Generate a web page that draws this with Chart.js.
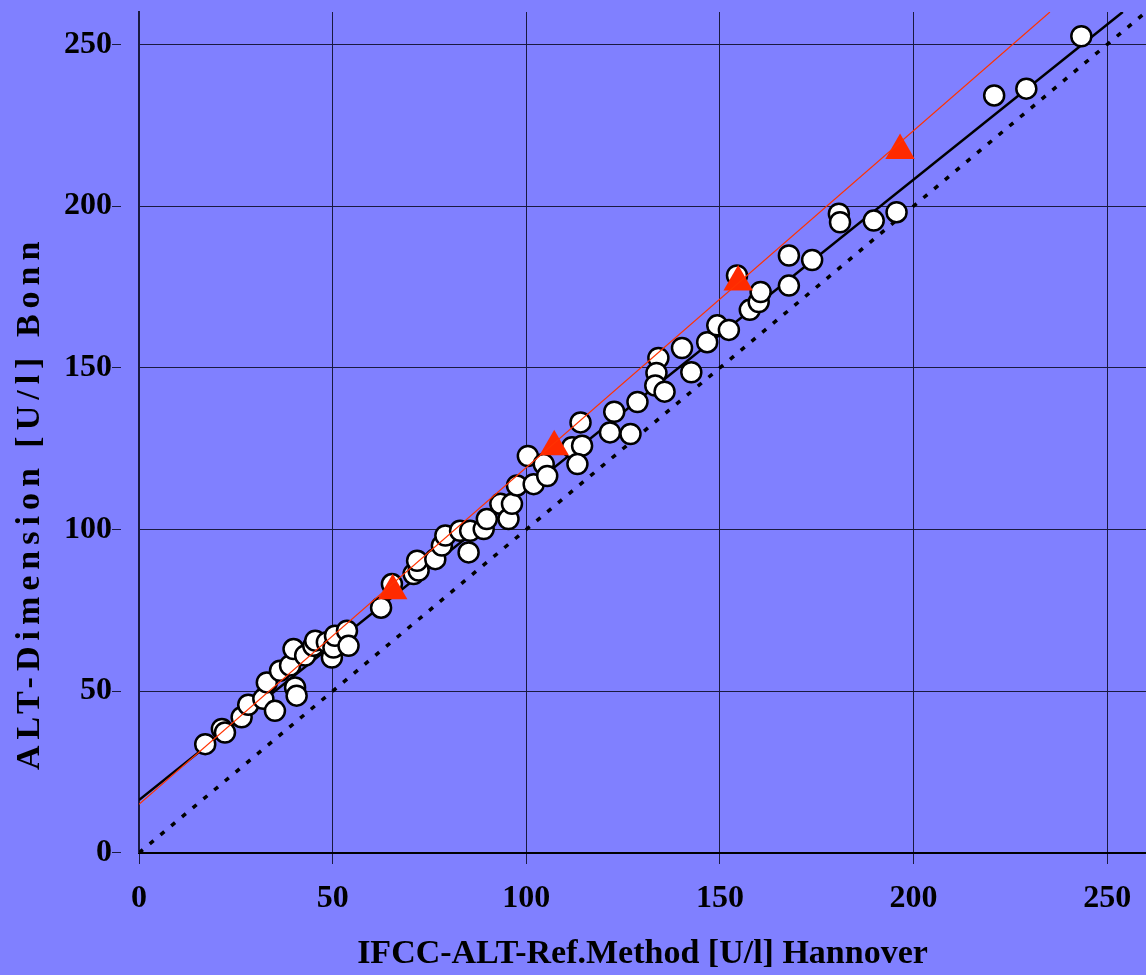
<!DOCTYPE html>
<html>
<head>
<meta charset="utf-8">
<script src="https://cdn.jsdelivr.net/npm/chart.js@4/dist/chart.umd.min.js"></script>
<style>
  html, body { margin: 0; padding: 0; background: #8080ff; }
  #wrap { width: 1146px; height: 975px; }
</style>
</head>
<body>
<div id="wrap"><canvas id="id-alt-chart" width="1146" height="975"></canvas></div>
<script>
// Hannover reference (x) vs Bonn Dimension (y), U/l
const hannover_values = [
  17.1, 21.4, 22.2, 26.5, 28.2, 32.1, 33.0, 35.1, 36.4, 39.0,
  39.9, 40.3, 40.7, 42.9, 45.0, 45.5, 48.5, 49.8, 50.2, 50.6,
  53.7, 54.1, 62.5, 65.3, 70.9, 72.2, 71.8, 76.5, 78.2, 79.1,
  82.9, 85.1, 85.5, 89.0, 89.8, 93.3, 95.4, 96.3, 97.6, 100.4,
  101.9, 104.5, 105.4, 111.8, 114.0, 114.4, 113.2, 121.6, 122.7, 126.9,
  128.7, 134.1, 133.6, 133.3, 135.7, 140.2, 142.6, 146.7, 149.3, 152.3,
  154.4, 157.7, 160.0, 160.5, 167.8, 167.8, 173.8, 180.7, 181.0, 189.7,
  195.6, 220.8, 229.1, 243.3
];
const bonn_values = [
  33.6, 38.3, 37.2, 41.9, 45.8, 47.6, 52.7, 43.9, 56.3, 57.9,
  63.0, 51.1, 48.6, 61.0, 64.0, 65.6, 65.1, 60.4, 63.5, 67.1,
  68.7, 64.0, 75.8, 83.1, 86.2, 87.3, 90.3, 90.8, 95.0, 98.1,
  99.6, 92.9, 99.6, 100.1, 103.2, 107.9, 103.2, 107.9, 113.6, 122.7,
  114.0, 120.2, 116.5, 125.4, 133.1, 125.9, 120.2, 130.0, 136.4, 129.5,
  139.4, 153.0, 148.4, 144.5, 142.6, 156.1, 148.6, 157.9, 163.1, 161.7,
  178.5, 167.9, 170.3, 173.4, 175.4, 184.7, 183.3, 197.6, 195.0, 195.5,
  198.1, 234.2, 236.3, 252.5
];

// red triangles
const triangle_x = [65.5, 107.2, 154.7, 196.5];
const triangle_y = [81.0, 125.6, 176.5, 217.2];

// lines (end points)
const regression_x = [0, 254];
const regression_y = [16.3, 260];
const red_line_x = [0, 235.2];
const red_line_y = [15.0, 260];
const identity_x = [0, 260];
const identity_y = [0, 260];

const axis_ticks = [0, 50, 100, 150, 200, 250];

const x_title = 'IFCC-ALT-Ref.Method [U/l] Hannover';
const y_title = 'ALT-Dimension [U/l] Bonn';

function ToPoints(xs, ys)
{
  return xs.map((x, i) => ({ x: x, y: ys[i] }));
}

const serif_family = '"Liberation Serif", "Times New Roman", serif';

function KeepTicks(axis)
{
  axis.ticks = axis_ticks.map(v => ({ value: v }));
}

// y title is letter-spaced in the original, drawn by hand here
const y_title_plugin =
{
  id: 'yTitle',
  afterDraw(chart)
  {
    const ctx = chart.ctx;
    ctx.save();
    ctx.translate(30, chart.chartArea.bottom - 350);
    ctx.rotate(-Math.PI / 2);
    ctx.font = 'bold 34px ' + serif_family;
    ctx.letterSpacing = '6px';
    ctx.fillStyle = '#000000';
    ctx.textAlign = 'center';
    ctx.textBaseline = 'middle';
    ctx.fillText(y_title, 0, 0);
    ctx.restore();
  }
};

const data_alt =
{
  datasets:
  [
    {
      label: 'red line',
      data: ToPoints(red_line_x, red_line_y),
      showLine: true,
      borderColor: '#ff3300',
      borderWidth: 1.2,
      pointRadius: 0
    },
    {
      label: 'triangles',
      data: ToPoints(triangle_x, triangle_y),
      pointStyle: 'triangle',
      pointRadius: 17,
      backgroundColor: '#ff2a00',
      borderColor: '#ff2a00',
      borderWidth: 0
    },
    {
      label: 'samples',
      data: ToPoints(hannover_values, bonn_values),
      pointRadius: 10,
      backgroundColor: '#ffffff',
      borderColor: '#000000',
      borderWidth: 2.5
    },
    {
      label: 'regression',
      data: ToPoints(regression_x, regression_y),
      showLine: true,
      borderColor: '#000000',
      borderWidth: 2.5,
      pointRadius: 0
    },
    {
      label: 'identity',
      data: ToPoints(identity_x, identity_y),
      showLine: true,
      borderColor: '#000000',
      borderWidth: 3.5,
      borderDash: [5, 9],
      pointRadius: 0
    }
  ]
};

const config_alt =
{
  type: 'scatter',
  data: data_alt,
  plugins: [y_title_plugin],
  options:
  {
    responsive: false,
    animation: false,
    layout: { autoPadding: false, padding: { top: 12, right: 0, bottom: 0, left: 64 } },
    plugins: { legend: { display: false }, tooltip: { enabled: false } },
    scales:
    {
      x:
      {
        type: 'linear',
        min: 0,
        max: 260,
        afterBuildTicks: KeepTicks,
        grid: { color: '#1a1a40', lineWidth: 1, tickLength: 27, tickBorderDash: [10, 60] },
        border: { color: '#000000', width: 2 },
        ticks: { color: '#000000', font: { family: serif_family, weight: 'bold', size: 32 }, padding: 0, maxRotation: 0, autoSkip: false },
        title:
        {
          display: true,
          text: x_title,
          color: '#000000',
          font: { family: serif_family, weight: 'bold', size: 34 },
          padding: { top: 16, bottom: 0 }
        }
      },
      y:
      {
        type: 'linear',
        min: 0,
        max: 260,
        afterBuildTicks: KeepTicks,
        grid: { color: '#1a1a40', lineWidth: 1, tickLength: 27, tickBorderDash: [9, 60] },
        border: { color: '#1a1a40', width: 2 },
        ticks: { color: '#000000', font: { family: serif_family, weight: 'bold', size: 32, lineHeight: 0.5 }, padding: 0 },
        title: { display: false }
      }
    }
  }
};

document.addEventListener("DOMContentLoaded", function()
{
  const ctx = document.getElementById('id-alt-chart').getContext('2d');
  new Chart(ctx, config_alt);
});
</script>
</body>
</html>
